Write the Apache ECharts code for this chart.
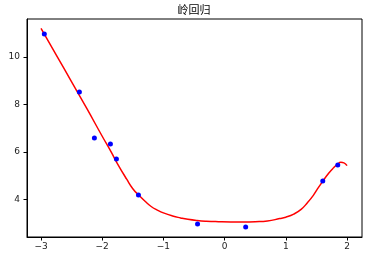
<!DOCTYPE html>
<html>
<head>
<meta charset="utf-8">
<script src="https://cdn.jsdelivr.net/npm/echarts@6/dist/echarts.min.js"></script>
<style>
html,body{margin:0;padding:0;background:#fff;}
#chart{width:378px;height:256px;}
</style>
</head>
<body>
<div id="chart"></div>
<script>
var titleText = '岭回归';
var pointsX = [-2.946, -2.373, -2.128, -1.866, -1.768, -1.408, -0.442, 0.344, 1.604, 1.849];
var pointsY = [10.97, 8.525, 6.587, 6.334, 5.70, 4.185, 2.963, 2.836, 4.775, 5.449];
var curveX = [-3.0, -2.75, -2.5, -2.25, -2.0, -1.85, -1.75, -1.6, -1.5, -1.4, -1.3, -1.2, -1.1, -1.0, -0.85, -0.72, -0.6, -0.45, -0.3, -0.1, 0.1, 0.3, 0.5, 0.7, 0.9, 1.0, 1.13, 1.25, 1.35, 1.45, 1.51, 1.6, 1.7, 1.78, 1.84, 1.9, 1.95, 2.0];
var curveY = [11.2, 10.08, 8.95, 7.82, 6.66, 5.98, 5.5, 4.85, 4.45, 4.17, 3.92, 3.70, 3.55, 3.43, 3.30, 3.22, 3.16, 3.11, 3.08, 3.06, 3.05, 3.05, 3.06, 3.09, 3.19, 3.25, 3.38, 3.58, 3.85, 4.17, 4.41, 4.75, 5.1, 5.33, 5.47, 5.56, 5.54, 5.42];
var xTicks = [-3, -2, -1, 0, 1, 2];
var yTicks = [4, 6, 8, 10];

var scatterData = pointsX.map(function (x, i) { return [x, pointsY[i]]; });
var curveData = curveX.map(function (x, i) { return [x, curveY[i]]; });
function fmt(v) { return String(v).replace('-', '\u2212'); }

var chart = echarts.init(document.getElementById('chart'), null, {renderer: 'canvas'});
chart.setOption({
  animation: false,
  backgroundColor: '#ffffff',
  title: {
    text: titleText,
    left: 194, top: 4, textAlign: 'center', padding: 0,
    textStyle: {fontFamily: 'Noto Sans CJK SC', fontSize: 11, fontWeight: 'normal', color: '#000'}
  },
  grid: {
    left: 27, right: 16, top: 19, bottom: 19,
    show: true, borderColor: '#000', borderWidth: 1, backgroundColor: 'transparent'
  },
  xAxis: {
    type: 'value', min: -3.229, max: 2.245,
    splitLine: {show: false},
    axisLine: {show: true, onZero: false, lineStyle: {color: '#000', width: 1}},
    axisTick: {show: true, customValues: xTicks, length: 3.5, lineStyle: {color: '#000'}},
    axisLabel: {customValues: xTicks, formatter: fmt, margin: 5, color: '#222', fontSize: 9, fontFamily: 'DejaVu Sans'}
  },
  yAxis: {
    type: 'value', min: 2.415, max: 11.6,
    splitLine: {show: false},
    axisLine: {show: true, onZero: false, lineStyle: {color: '#000', width: 1}},
    axisTick: {show: true, customValues: yTicks, length: 3.5, lineStyle: {color: '#000'}},
    axisLabel: {customValues: yTicks, formatter: fmt, margin: 7, color: '#222', fontSize: 9, fontFamily: 'DejaVu Sans'}
  },
  series: [
    {
      type: 'line', data: curveData, smooth: 0.5, showSymbol: false,
      lineStyle: {color: '#ff0000', width: 1.5}, z: 2
    },
    {
      type: 'scatter', data: scatterData, symbolSize: 5,
      itemStyle: {color: '#0000ff', opacity: 1}, z: 3
    }
  ]
});
</script>
</body>
</html>
